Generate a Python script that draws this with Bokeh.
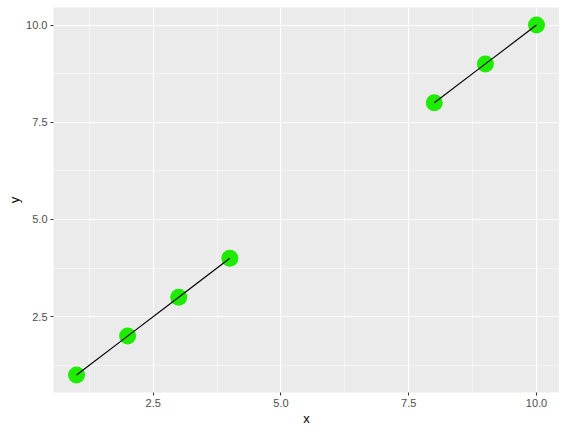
from bokeh.plotting import figure
from bokeh.models import Range1d, FixedTicker, ColumnDataSource
from bokeh.embed import file_html
from bokeh.resources import INLINE

# data
x_group1 = [1, 2, 3, 4]
y_group1 = [1, 2, 3, 4]
x_group2 = [8, 9, 10]
y_group2 = [8, 9, 10]
tick_values = [2.5, 5.0, 7.5, 10.0]
minor_values = [1.25, 3.75, 6.25, 8.75]
x_label = "x"
y_label = "y"

p = figure(width=559, height=428, output_backend="svg", toolbar_location=None,
           x_range=Range1d(0.55, 10.45), y_range=Range1d(0.55, 10.45),
           min_border_left=53, min_border_right=0, min_border_top=7, min_border_bottom=36)
p.background_fill_color = "#EBEBEB"
p.border_fill_color = "white"
p.outline_line_color = None

for ax in (p.xaxis[0], p.yaxis[0]):
    ax.ticker = FixedTicker(ticks=tick_values, minor_ticks=minor_values)
    ax.axis_line_color = None
    ax.major_tick_line_color = "#333333"
    ax.major_tick_line_width = 1
    ax.major_tick_in = 0
    ax.major_tick_out = 3
    ax.minor_tick_line_color = None
    ax.major_label_text_font = "Liberation Sans"
    ax.major_label_text_font_size = "11px"
    ax.major_label_text_color = "#4D4D4D"
    ax.major_label_standoff = 2
    ax.axis_label_text_font = "Liberation Sans"
    ax.axis_label_text_font_size = "13px"
    ax.axis_label_text_font_style = "normal"
    ax.axis_label_text_color = "black"
    ax.axis_label_standoff = 1

p.xaxis.axis_label = x_label
p.yaxis.axis_label = y_label
p.xaxis.major_label_overrides = {v: f"{v:.1f}" for v in tick_values}
p.yaxis.major_label_overrides = {v: f"{v:.1f}" for v in tick_values}

for g in (p.xgrid[0], p.ygrid[0]):
    g.grid_line_color = "white"
    g.grid_line_width = 1.1
    g.minor_grid_line_color = "white"
    g.minor_grid_line_width = 0.5

for xs, ys in ((x_group1, y_group1), (x_group2, y_group2)):
    src = ColumnDataSource(dict(x=xs, y=ys))
    p.scatter("x", "y", source=src, size=17, fill_color="#1EEB00", line_color=None)
    p.line("x", "y", source=src, line_color="black", line_width=1.2)

open("out.html", "w").write(file_html(p, INLINE))
